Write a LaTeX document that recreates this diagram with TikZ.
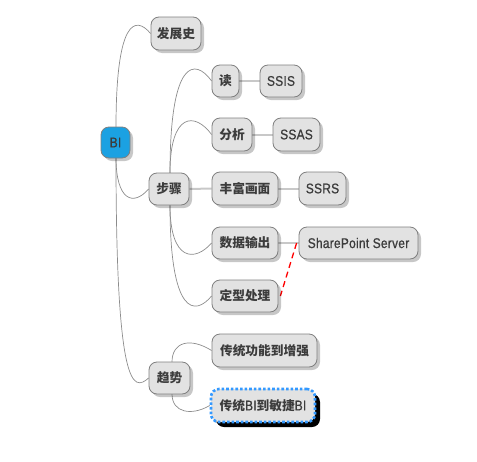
\documentclass[tikz,border=0pt]{standalone}
\usepackage{fontspec}
\setmainfont{Liberation Sans}[FakeStretch=0.85, LetterSpace=2, FakeBold=0.8]
\newfontfamily\cjk{Noto Sans CJK SC}
\usetikzlibrary{shadows,backgrounds}
\definecolor{nodefill}{HTML}{E2E2E2}
\definecolor{linec}{HTML}{7F7F7F}
\definecolor{textc}{HTML}{3C3C3C}
\definecolor{biblue}{HTML}{1BA1E2}
\definecolor{curvec}{HTML}{8C8C8C}
\definecolor{linkc}{HTML}{C8C8C8}
\definecolor{dotblue}{HTML}{3399FF}
\newcommand{\cj}[1]{{\fontsize{12.7}{14}\cjk\bfseries #1}}
\tikzset{
  mm/.style={draw=linec, line width=0.8pt, fill=nodefill, rounded corners=8pt,
    minimum height=32pt, inner xsep=0pt, inner ysep=0pt, text=textc,
    font=\fontsize{14}{16}\selectfont,
    drop shadow={shadow xshift=3pt, shadow yshift=-3pt, opacity=0.22, fill=black}},
  curve/.style={draw=curvec, line width=0.7pt},
  link/.style={draw=linkc, line width=2pt},
  redlink/.style={draw=red, line width=1.3pt, dash pattern=on 6pt off 4pt},
  special/.style={mm, draw=dotblue, line width=2.6pt, dash pattern=on 2.6pt off 2pt,
    drop shadow={shadow xshift=5pt, shadow yshift=-5pt, opacity=1, fill=black}},
}
\begin{document}
\begin{tikzpicture}[x=1pt,y=-1pt]
\useasboundingbox (0,0) rectangle (477,461);
% nodes
\node[mm, fill=biblue, minimum width=29pt, minimum height=31pt] (bi) at (115.5,142.5) {BI};
\node[mm, minimum width=50pt, minimum height=33pt] (fzs) at (176,33.5) {\cj{发展史}};
\node[mm, minimum width=40pt] (bz) at (169,189) {\cj{步骤}};
\node[mm, minimum width=41pt] (qs) at (169.5,378) {\cj{趋势}};
\node[mm, minimum width=27pt] (du) at (225.5,81) {\cj{读}};
\node[mm, minimum width=42pt] (ssis) at (281,81) {SSIS};
\node[mm, minimum width=40pt, minimum height=33pt] (fx) at (232,134.5) {\cj{分析}};
\node[mm, minimum width=47pt, minimum height=33pt] (ssas) at (296.5,134.5) {SSAS};
\node[mm, minimum width=66pt, minimum height=33pt] (ff) at (245,188.5) {\cj{丰富画面}};
\node[mm, minimum width=47pt, minimum height=33pt] (ssrs) at (322.5,188.5) {SSRS};
\node[mm, minimum width=66pt] (sj) at (245,243) {\cj{数据输出}};
\node[mm, minimum width=119pt] (sp) at (358.5,243) {SharePoint Server};
\node[mm, minimum width=66pt] (dx) at (245,296) {\cj{定型处理}};
\node[mm, minimum width=105pt, minimum height=33pt] (ct1) at (264.5,350.5) {\cj{传统功能到增强}};
\node[special, minimum width=104pt, minimum height=33pt] (ct2) at (263,405.5) {\cj{传统}BI\cj{到敏捷}BI};
% connectors
\begin{scope}[on background layer]
\draw[curve] (bi.center) ++(0.5,-15) .. controls (116,20) and (135,15) .. (fzs.west);
\draw[curve] (bi.center) ++(0.5,15) .. controls (116,200) and (133,207) .. (bz.west);
\draw[curve] (bi.center) ++(0.5,15) .. controls (116,390) and (133,392) .. (qs.west);
\draw[curve] (bz.center) ++(1,-16) .. controls (170,58) and (195,58) .. (du.west);
\draw[curve] (bz.center) ++(1,-16) .. controls (170,112) and (195,112) .. (fx.west);
\draw[curve] (bz.center) ++(1,16) .. controls (170,262) and (195,262) .. (sj.west);
\draw[curve] (bz.center) ++(1,16) .. controls (170,316) and (195,316) .. (dx.west);
\draw[link] (bz.east) -- (ff.west);
\draw[curve] (qs.center) ++(2.5,-16) .. controls (172,342) and (190,337) .. (ct1.west);
\draw[curve] (qs.center) ++(2.5,16) .. controls (172,413) and (192,416) .. (ct2.west);
\draw[link] (du.east) -- (ssis.west);
\draw[link] (fx.east) -- (ssas.west);
\draw[link] (ff.east) -- (ssrs.west);
\draw[link] (sj.east) -- (sp.west);
\draw[redlink] ([xshift=-2pt]sp.west) -- ([xshift=2pt]dx.east);
\end{scope}
\end{tikzpicture}
\end{document}
